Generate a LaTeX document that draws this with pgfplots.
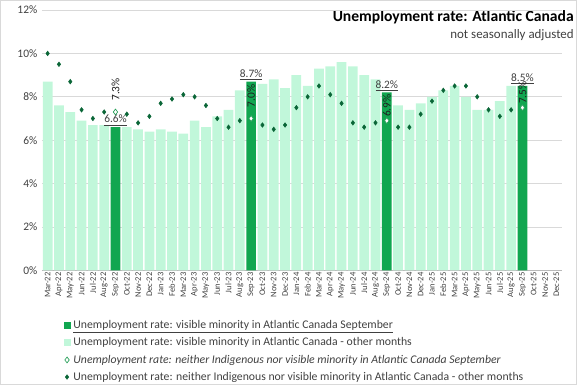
\documentclass[border=0pt]{standalone}
\usepackage{fontspec}
\setmainfont{Carlito}
\usepackage{pgfplots}
\pgfplotsset{compat=1.18}
\definecolor{darkbar}{RGB}{17,166,80}
\definecolor{lightbar}{RGB}{193,247,218}
\definecolor{mkdark}{RGB}{10,102,55}
\definecolor{mksep}{RGB}{40,160,90}
\definecolor{txt}{RGB}{64,64,64}
\definecolor{lbl}{RGB}{30,30,30}
\definecolor{gridc}{RGB}{217,217,217}
\begin{document}
\begin{tikzpicture}
\useasboundingbox (0,0) rectangle (432.75pt,288.75pt);
\draw[gridc, line width=0.75pt] (0.375pt,0.375pt) rectangle (432.375pt,288.375pt);
\node[anchor=east, font=\bfseries\fontsize{11.7}{13}\selectfont, inner sep=0pt] at (430.5pt,275.5pt) {Unemployment rate: Atlantic Canada};
\node[anchor=east, font=\fontsize{9.7}{11}\selectfont, text=txt, inner sep=0pt] at (430.5pt,262.5pt) {not seasonally adjusted};
\begin{axis}[
  at={(31.5pt,86pt)}, anchor=south west,
  scale only axis, width=390pt, height=195.2pt,
  xmin=-0.5, xmax=45.5, ymin=0, ymax=12,
  ytick={0,2,...,12},
  yticklabel={\pgfmathprintnumber{\tick}\%},
  xtick={0,...,45},
  xticklabels={Mar-22,Apr-22,May-22,Jun-22,Jul-22,Aug-22,Sep-22,Oct-22,Nov-22,Dec-22,Jan-23,Feb-23,Mar-23,Apr-23,May-23,Jun-23,Jul-23,Aug-23,Sep-23,Oct-23,Nov-23,Dec-23,Jan-24,Feb-24,Mar-24,Apr-24,May-24,Jun-24,Jul-24,Aug-24,Sep-24,Oct-24,Nov-24,Dec-24,Jan-25,Feb-25,Mar-25,Apr-25,May-25,Jun-25,Jul-25,Aug-25,Sep-25,Oct-25,Nov-25,Dec-25},
  x tick label style={rotate=90, anchor=east, font=\fontsize{6.4}{7}\selectfont, text=txt, inner sep=1.5pt},
  y tick label style={font=\fontsize{8.6}{10}\selectfont, text=txt},
  ymajorgrids, grid style={draw=gridc, line width=0.6pt},
  axis x line=bottom, axis y line=left,
  x axis line style={draw=gray!55, -},
  y axis line style={draw=none},
  major tick length=0pt,
  /pgf/number format/assume math mode=true,
  clip=false,
  legend cell align=left,
  legend style={draw=none, fill=none, at={(0.041,-0.19)}, anchor=north west,
    inner sep=0pt, row sep=4.2pt, font=\fontsize{8.8}{10}\selectfont, text=txt,
    nodes={inner xsep=2.2pt, inner ysep=0.5pt}},
]
\addplot[ybar, bar width=0.86, bar shift=0pt, fill=darkbar, draw=none,
  legend image code/.code={\fill[darkbar] (0pt,-2.6pt) rectangle (5.2pt,2.6pt);},
  nodes near coords={\underline{\pgfmathprintnumber[fixed,fixed zerofill,precision=1]{\pgfplotspointmeta}\%}},
  every node near coord/.append style={font=\fontsize{8.5}{10}\selectfont, text=txt, inner sep=1pt}]
  coordinates {(6,6.6) (18,8.7) (30,8.2) (42,8.5)};
\addlegendentry{\underline{Unemployment rate: visible minority in Atlantic Canada September}}
\addplot[ybar, bar width=0.86, bar shift=0pt, fill=lightbar, draw=none,
  legend image code/.code={\fill[lightbar] (0pt,-2.6pt) rectangle (5.2pt,2.6pt);}]
  coordinates {(0,8.7) (1,7.6) (2,7.3) (3,6.9) (4,6.7) (5,6.7)
  (7,6.6) (8,6.5) (9,6.4) (10,6.5) (11,6.4) (12,6.3) (13,6.9) (14,6.6) (15,7.1) (16,7.4) (17,8.3)
  (19,8.6) (20,8.8) (21,8.4) (22,9.0) (23,8.5) (24,9.3) (25,9.4) (26,9.6) (27,9.4) (28,9.0) (29,8.8)
  (31,7.6) (32,7.4) (33,7.7) (34,8.0) (35,8.3) (36,8.5) (37,8.0) (38,7.4) (39,7.4) (40,7.8) (41,8.5)};
\addlegendentry{Unemployment rate: visible minority in Atlantic Canada - other months}
\addplot[only marks, mark=diamond*, mark size=2.2pt, mark options={draw=mksep, fill=white, line width=0.5pt},
  legend image code/.code={\draw[only marks, mark=diamond*, mark size=2.2pt, mark options={draw=mksep, fill=white, line width=0.5pt}] plot coordinates {(2.6pt,0pt)};},
  visualization depends on={\thisrow{off} \as \off},
  nodes near coords={\pgfmathprintnumber[fixed,fixed zerofill,precision=1]{\pgfplotspointmeta}\%},
  every node near coord/.append style={font=\fontsize{8.5}{10}\selectfont, text=lbl, inner sep=0pt, yshift=\off pt, rotate=90, anchor=west}]
  table[x=x, y=y] {
x y off
6 7.3 8.2
18 7.0 8.2
30 6.9 2.6
42 7.5 2.6
};
\addlegendentry{\textit{Unemployment rate: neither Indigenous nor visible minority in Atlantic Canada September}}
\addplot[only marks, mark=diamond*, mark size=1.7pt, mark options={draw=mkdark, fill=mkdark},
  legend image code/.code={\draw[only marks, mark=diamond*, mark size=1.7pt, mark options={draw=mkdark, fill=mkdark}] plot coordinates {(2.6pt,0pt)};}]
  coordinates {(0,10.0) (1,9.5) (2,8.7) (3,7.4) (4,7.0) (5,7.3)
  (7,7.2) (8,6.8) (9,7.1) (10,7.7) (11,7.9) (12,8.1) (13,8.0) (14,7.6) (15,7.0) (16,6.6) (17,6.9)
  (19,6.7) (20,6.5) (21,6.7) (22,7.5) (23,8.0) (24,8.5) (25,8.1) (26,7.7) (27,6.8) (28,6.6) (29,6.8)
  (31,6.6) (32,6.6) (33,7.2) (34,7.8) (35,8.3) (36,8.5) (37,8.5) (38,8.0) (39,7.4) (40,7.1) (41,7.4)};
\addlegendentry{Unemployment rate: neither Indigenous nor visible minority in Atlantic Canada - other months}
\end{axis}
\end{tikzpicture}
\end{document}
